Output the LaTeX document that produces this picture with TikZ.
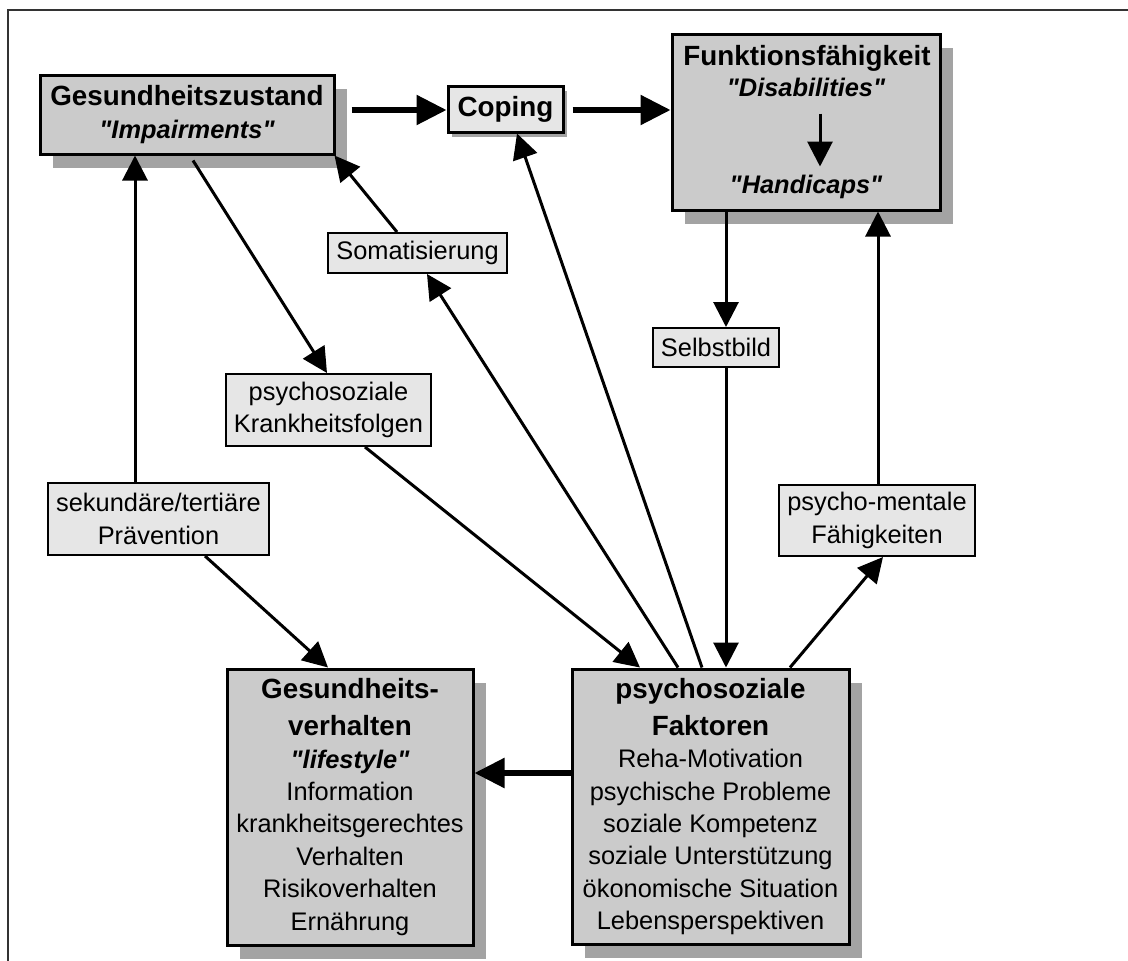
\documentclass[tikz,border=0pt]{standalone}
\usepackage{fontspec}
% plain family without TeX ligatures, so that " stays a straight quote
\newfontfamily\arialf{Liberation Sans}
\usetikzlibrary{arrows.meta,shadows,calc}
\definecolor{boxfill}{HTML}{CBCBCB}
\definecolor{lightfill}{HTML}{E6E6E6}
\definecolor{shade}{HTML}{A3A3A3}
\definecolor{framegray}{HTML}{333333}
\newcommand\mkreg{\arialf\fontsize{25.4}{32.4}\selectfont}
\newcommand\mktitle{\arialf\bfseries\fontsize{27.8}{32.4}\selectfont}
\newcommand\mksub{\arialf\bfseries\itshape\fontsize{25.4}{32.4}\selectfont}
\begin{document}
\begin{tikzpicture}[x=1pt,y=-1pt,
  bigbox/.style={draw, line width=3pt, fill=boxfill, align=center, inner sep=0pt, font=\mkreg,
    drop shadow={shadow xshift=13pt, shadow yshift=-14pt, fill=shade, opacity=1}},
  copbox/.style={draw, line width=3pt, fill=lightfill, inner sep=0pt,
    drop shadow={shadow xshift=4pt, shadow yshift=-5pt, fill=shade, opacity=1}},
  smallbox/.style={draw, line width=2pt, fill=lightfill, align=center, inner sep=0pt, font=\mkreg},
  plaintext/.style={inner sep=0pt, anchor=base},
  thinarrow/.style={line width=3pt, -{Triangle[length=25pt,width=25pt]}},
  fatarrow/.style={line width=5.5pt, -{Triangle[length=30pt,width=29pt]}}]
\useasboundingbox (0,0) rectangle (1128,961);

% outer frame (top and left edges)
\draw[framegray, line width=2.5pt] (1128,10) -- (8,10) -- (8,961);

% main boxes
\node[bigbox, minimum width=294pt, minimum height=79pt] (G) at (187,114.5)
  {{\mktitle Gesundheitszustand}\\{\mksub "Impairments"}};
\node[copbox, minimum width=115pt, minimum height=46pt] (Cop) at (505.5,109) {\mktitle Coping};
\node[bigbox, minimum width=268pt, minimum height=176pt] (F) at (806,122) {};
\node[plaintext] (F1) at ($(F.north)+(1,33)$) {\mktitle Funktionsfähigkeit};
\node[plaintext] (F2) at ($(F.north)+(0,64)$) {\mksub "Disabilities"};
\node[plaintext] (F3) at ($(F.north)+(0,161)$) {\mksub "Handicaps"};

\node[bigbox, minimum width=246pt, minimum height=276pt] (GV) at (350,807)
  {{\mktitle Gesundheits-}\\[4.6pt]{\mktitle verhalten}\\{\mksub "lifestyle"}\\Information\\krankheitsgerechtes\\Verhalten\\Risikoverhalten\\Ernährung};
\node[bigbox, minimum width=277pt, minimum height=275pt] (PF) at (710.5,806.5)
  {{\mktitle psychosoziale}\\[4.6pt]{\mktitle Faktoren}\\Reha-Motivation\\psychische Probleme\\soziale Kompetenz\\soziale Unterstützung\\ökonomische Situation\\Lebensperspektiven};

% intermediate labels
\node[smallbox, minimum width=179pt, minimum height=40pt] (Som) at (417.5,253) {Somatisierung};
\node[smallbox, minimum width=205pt, minimum height=72pt] (KF) at (328.5,410) {psychosoziale\\Krankheitsfolgen};
\node[smallbox, minimum width=126pt, minimum height=39pt] (Sel) at (716,347.5) {Selbstbild};
\node[smallbox, minimum width=196pt, minimum height=71pt] (PM) at (877,520.5) {psycho-mentale\\Fähigkeiten};
\node[smallbox, minimum width=221pt, minimum height=72pt] (sek) at (158.5,519) {sekundäre/tertiäre\\Prävention};

% connectors
\draw[fatarrow] ($(G.east)+(16,-4.5)$) -- ($(Cop.west)+(0,1)$);
\draw[fatarrow] ($(Cop.east)+(8,1)$) -- ($(F.west)+(0,-12)$);
\draw[thinarrow] ($(F2.base)+(14,17)$) -- ($(F3.base)+(14,-27)$);
\draw[fatarrow] ($(PF.west)+(0,-33.5)$) -- ($(GV.east)+(0,-34)$);

\draw[thinarrow] ($(sek.north)+(-23.5,0)$) -- ($(G.south)+(-52,0)$);
\draw[thinarrow] ($(G.south)+(6,5)$) -- ($(KF.north)+(-1.5,0)$);
\draw[thinarrow] ($(Som.north)+(-20.5,0)$) -- ($(G.south east)+(-1,0)$);
\draw[thinarrow] ($(PF.north)+(-32.5,0)$) -- ($(Som.south)+(9.5,0)$);
\draw[thinarrow] ($(PF.north)+(-8.5,0)$) -- ($(Cop.south)+(11.5,0)$);
\draw[thinarrow] ($(KF.south)+(36.5,0)$) -- ($(PF.north)+(-70.5,0)$);
\draw[thinarrow] ($(F.south)+(-80,0)$) -- ($(Sel.north)+(10,0)$);
\draw[thinarrow] ($(Sel.south)+(10,0)$) -- ($(PF.north)+(15.5,0)$);
\draw[thinarrow] ($(PF.north)+(79.5,0)$) -- ($(PM.south)+(6,0)$);
\draw[thinarrow] ($(PM.north)+(1,0)$) -- ($(F.south)+(72,0)$);
\draw[thinarrow] ($(sek.south)+(46.5,0)$) -- ($(GV.north)+(-22,0)$);
\end{tikzpicture}
\end{document}
